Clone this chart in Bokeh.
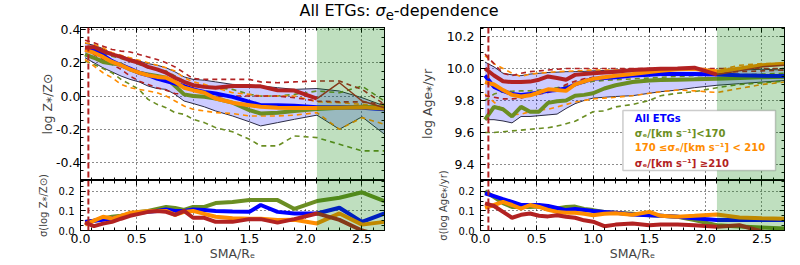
from bokeh.plotting import figure
from bokeh.models import (Range1d, LinearAxis, BoxAnnotation, Span, Label, Div, FixedTicker,
                          PrintfTickFormatter)
from bokeh.layouts import column, row
from bokeh.embed import file_html
from bokeh.resources import INLINE

# ---------------- data ----------------
R = [0.04, 0.12, 0.2, 0.28, 0.36, 0.44, 0.52, 0.6, 0.68, 0.76, 0.84, 0.92,
     1.0, 1.1, 1.2, 1.35, 1.5, 1.6, 1.75, 1.9, 2.1, 2.3, 2.5, 2.7]

# metallicity (log Z*/Zsun)
Z_all = [0.275, 0.28, 0.245, 0.21, 0.185, 0.165, 0.14, 0.125, 0.105, 0.09, 0.075, 0.06,
         0.04, 0.025, 0.015, -0.005, -0.035, -0.055, -0.055, -0.058, -0.067, -0.067, -0.07, -0.08]
Z_low = [0.25, 0.23, 0.205, 0.195, 0.19, 0.16, 0.14, 0.13, 0.12, 0.11, 0.06, 0.01,
         0.0, -0.005, -0.015, -0.04, -0.085, -0.105, -0.1, -0.09, -0.078, -0.07, -0.065, -0.07]
Z_mid = [0.277, 0.26, 0.235, 0.205, 0.185, 0.16, 0.14, 0.125, 0.115, 0.11, 0.085, 0.05,
         0.035, 0.02, -0.015, -0.04, -0.055, -0.065, -0.07, -0.072, -0.072, -0.07, -0.068, -0.075]
Z_high = [0.29, 0.295, 0.27, 0.25, 0.235, 0.215, 0.2, 0.175, 0.16, 0.14, 0.11, 0.085,
          0.065, 0.055, 0.05, 0.06, 0.06, 0.058, 0.035, 0.033, -0.015, 0.08, -0.03, -0.07]
Z_band_hi = [0.317, 0.305, 0.285, 0.255, 0.24, 0.225, 0.21, 0.195, 0.185, 0.17, 0.145, 0.115,
             0.1, 0.095, 0.085, 0.07, 0.065, 0.06, 0.05, 0.04, 0.045, 0.03, -0.01, -0.06]
Z_band_lo = [0.23, 0.2, 0.17, 0.145, 0.12, 0.1, 0.085, 0.06, 0.045, 0.04, 0.01, -0.03,
             -0.045, -0.065, -0.09, -0.12, -0.155, -0.18, -0.16, -0.14, -0.115, -0.2, -0.125, -0.23]
Z_high_up = [0.335, 0.32, 0.3, 0.28, 0.27, 0.265, 0.25, 0.235, 0.22, 0.2, 0.175, 0.14,
             0.105, 0.1, 0.1, 0.1, 0.1, 0.085, 0.08, 0.085, 0.09, 0.09, 0.04, -0.05]
Z_high_dn = [0.28, 0.25, 0.22, 0.19, 0.16, 0.12, 0.09, 0.07, 0.05, 0.035, 0.015, 0.01,
             0.005, 0.0, -0.005, 0.0, 0.0, 0.0, 0.0, -0.01, -0.03, -0.035, -0.035, -0.05]
Z_mid_up = [0.32, 0.31, 0.29, 0.26, 0.245, 0.23, 0.215, 0.2, 0.185, 0.17, 0.15, 0.11,
            0.085, 0.07, 0.05, 0.02, 0.01, 0.0, 0.0, 0.0, -0.035, -0.04, -0.05, -0.06]
Z_mid_dn = [0.22, 0.18, 0.14, 0.11, 0.07, 0.05, 0.04, 0.03, 0.02, 0.0, -0.03, -0.06,
            -0.08, -0.09, -0.1, -0.105, -0.12, -0.12, -0.12, -0.115, -0.1, -0.2, -0.13, -0.17]
Z_low_up = [0.28, 0.27, 0.255, 0.24, 0.225, 0.21, 0.19, 0.17, 0.16, 0.15, 0.12, 0.09,
            0.07, 0.06, 0.05, 0.04, 0.01, 0.0, 0.0, 0.01, 0.03, 0.02, 0.06, -0.03]
Z_low_dn = [0.21, 0.19, 0.165, 0.14, 0.1, 0.07, 0.04, -0.02, -0.05, -0.07, -0.1, -0.11,
            -0.14, -0.16, -0.19, -0.215, -0.26, -0.3, -0.3, -0.24, -0.25, -0.29, -0.33, -0.33]

# scatter of metallicity
sZ_all = [0.044, 0.05, 0.055, 0.061, 0.07, 0.08, 0.09, 0.095, 0.1, 0.107, 0.1, 0.1,
          0.107, 0.105, 0.1, 0.097, 0.095, 0.13, 0.095, 0.087, 0.087, 0.116, 0.044, 0.087]
sZ_low = [0.044, 0.05, 0.06, 0.07, 0.075, 0.085, 0.095, 0.1, 0.11, 0.12, 0.115, 0.105,
          0.12, 0.12, 0.14, 0.145, 0.155, 0.155, 0.155, 0.11, 0.15, 0.167, 0.195, 0.15]
sZ_mid = [0.03, 0.05, 0.07, 0.061, 0.075, 0.09, 0.095, 0.098, 0.1, 0.1, 0.08, 0.095,
          0.1, 0.085, 0.07, 0.063, 0.06, 0.06, 0.053, 0.055, 0.036, 0.087, 0.03, 0.044]
sZ_high = [0.04, 0.022, 0.035, 0.044, 0.06, 0.075, 0.085, 0.095, 0.1, 0.095, 0.08, 0.1,
           0.065, 0.065, 0.044, 0.044, 0.058, 0.058, 0.04, 0.058, 0.087, 0.054, 0.0, -0.03]

# age (log Age*/yr)
A_all = [9.956, 9.885, 9.86, 9.84, 9.835, 9.84, 9.85, 9.86, 9.865, 9.875, 9.9, 9.92,
         9.935, 9.94, 9.945, 9.956, 9.96, 9.965, 9.965, 9.965, 9.962, 9.958, 9.955, 9.953]
A_low = [9.68, 9.76, 9.745, 9.70, 9.76, 9.73, 9.73, 9.785, 9.795, 9.80, 9.83, 9.835,
         9.845, 9.875, 9.895, 9.915, 9.925, 9.928, 9.93, 9.932, 9.935, 9.94, 9.945, 9.948]
A_mid = [9.915, 9.9, 9.865, 9.835, 9.825, 9.832, 9.85, 9.87, 9.865, 9.86, 9.9, 9.92,
         9.935, 9.945, 9.955, 9.965, 9.978, 9.985, 9.995, 9.998, 9.98, 10.0, 10.02, 10.03]
A_high = [10.0, 9.956, 9.92, 9.915, 9.915, 9.918, 9.93, 9.95, 9.94, 9.93, 9.96, 9.965,
          9.97, 9.975, 9.98, 9.99, 9.995, 9.998, 10.0, 10.005, 9.962, 9.985, 10.01, 10.02]
A_band_hi = [10.04, 10.01, 9.97, 9.96, 9.955, 9.965, 9.97, 9.975, 9.977, 9.98, 9.98, 9.982,
             9.985, 9.987, 9.99, 9.99, 9.99, 9.99, 9.99, 9.99, 9.985, 9.99, 9.995, 9.99]
A_band_lo = [9.68, 9.68, 9.672, 9.66, 9.70, 9.70, 9.705, 9.71, 9.715, 9.75, 9.78, 9.8,
             9.815, 9.82, 9.825, 9.83, 9.845, 9.855, 9.865, 9.88, 9.895, 9.905, 9.915, 9.925]
A_high_up = [10.09, 10.03, 9.97, 9.955, 9.97, 9.98, 9.985, 9.99, 9.995, 10.0, 10.0, 10.0,
             10.0, 10.0, 10.0, 10.0, 10.0, 10.0, 10.0, 10.0, 10.0, 10.0, 10.0, 10.0]
A_high_dn = [9.83, 9.82, 9.81, 9.81, 9.815, 9.83, 9.84, 9.85, 9.87, 9.9, 9.92, 9.935,
             9.945, 9.95, 9.955, 9.96, 9.962, 9.965, 9.967, 9.97, 9.972, 9.98, 9.985, 9.99]
A_mid_up = [10.08, 10.03, 10.0, 9.97, 9.95, 9.965, 9.97, 9.975, 9.98, 9.982, 9.985, 9.988,
            9.99, 9.99, 9.99, 9.99, 9.99, 9.99, 9.99, 9.99, 9.99, 10.02, 10.03, 10.03]
A_mid_dn = [9.84, 9.79, 9.74, 9.71, 9.715, 9.73, 9.74, 9.745, 9.76, 9.775, 9.79, 9.80,
            9.81, 9.815, 9.82, 9.83, 9.845, 9.855, 9.865, 9.86, 9.85, 9.875, 9.9, 9.915]
A_low_up = [9.80, 9.84, 9.855, 9.858, 9.86, 9.86, 9.865, 9.87, 9.88, 9.89, 9.9, 9.91,
            9.92, 9.925, 9.93, 9.935, 9.94, 9.945, 9.95, 9.955, 9.958, 9.96, 9.965, 9.97]
A_low_dn = [9.60, 9.60, 9.605, 9.61, 9.615, 9.62, 9.625, 9.63, 9.64, 9.655, 9.67, 9.70,
            9.73, 9.735, 9.76, 9.775, 9.80, 9.83, 9.845, 9.855, 9.88, 9.9, 9.91, 9.92]

# scatter of age
sA_all = [0.19, 0.175, 0.16, 0.146, 0.13, 0.13, 0.13, 0.125, 0.115, 0.104, 0.11, 0.105,
          0.1, 0.095, 0.09, 0.082, 0.078, 0.075, 0.07, 0.062, 0.053, 0.053, 0.053, 0.053]
sA_low = [0.2, 0.17, 0.14, 0.12, 0.12, 0.12, 0.123, 0.12, 0.112, 0.12, 0.122, 0.11,
          0.104, 0.095, 0.09, 0.085, 0.078, 0.075, 0.07, 0.053, 0.027, 0.02, 0.015, 0.01]
sA_mid = [0.116, 0.13, 0.146, 0.13, 0.112, 0.13, 0.12, 0.105, 0.095, 0.09, 0.09, 0.085,
          0.078, 0.085, 0.088, 0.08, 0.095, 0.075, 0.07, 0.075, 0.082, 0.066, 0.062, 0.06]
sA_high = [0.138, 0.125, 0.095, 0.065, 0.08, 0.087, 0.075, 0.072, 0.078, 0.07, 0.065, 0.052,
           0.045, 0.022, 0.03, 0.036, 0.027, 0.03, 0.031, 0.027, 0.019, 0.027, -0.005, -0.03]

R_CUT = 2.1      # start of shaded region
R_PSF = 0.07     # vertical dashed marker
X_MAJOR = [0.0, 0.5, 1.0, 1.5, 2.0, 2.5]
X_MINOR = [round(i / 10, 1) for i in range(28) if i % 5]

LEGEND = ["All ETGs", "σₑ/[km s⁻¹]<170", "170 ≤σₑ/[km s⁻¹] < 210", "σₑ/[km s⁻¹] ≥210"]

BLUE, GREEN, ORANGE, RED = "#0000FF", "#6B8E23", "#FF8C00", "#B22222"
FONT = "DejaVu Sans"
OVERLAP = 14   # bottom panels reach up under the top panels (transparent border)


# ---------------- helpers ----------------
def style_axis(ax):
    ax.major_tick_in = 5
    ax.major_tick_out = 0
    ax.minor_tick_in = 3
    ax.minor_tick_out = 0
    ax.axis_line_color = "black"
    ax.major_tick_line_color = "black"
    ax.minor_tick_line_color = "black"
    ax.major_label_text_font = FONT
    ax.axis_label_text_font = FONT
    ax.axis_label_text_font_style = "normal"
    ax.major_label_text_color = "black"


def tick_only(ax, positions, length):
    ax.ticker = FixedTicker(ticks=[], minor_ticks=positions)
    ax.major_tick_in = 0
    ax.major_tick_out = 0
    ax.minor_tick_in = length
    ax.minor_tick_out = 0
    ax.axis_line_color = "black"
    ax.minor_tick_line_color = "black"


def make_fig(w, h, yr, yticks, yminor, mb, show_x, margin=(0, 0, 0, 0)):
    p = figure(width=w, height=h, x_range=Range1d(0, 2.7), y_range=Range1d(*yr),
               output_backend="svg", toolbar_location=None,
               min_border_left=mb[0], min_border_right=mb[1],
               min_border_top=mb[2], min_border_bottom=mb[3], margin=margin)
    p.outline_line_color = "black"
    p.outline_line_width = 1
    xt = FixedTicker(ticks=X_MAJOR, minor_ticks=X_MINOR)
    yt = FixedTicker(ticks=yticks, minor_ticks=yminor)
    yl = p.left[0]
    style_axis(yl)
    yl.ticker = yt
    yl.formatter = PrintfTickFormatter(format="%.1f")
    xb = p.below[0]
    if show_x:
        style_axis(xb)
        xb.ticker = xt
        xb.formatter = PrintfTickFormatter(format="%.1f")
        xb.major_label_text_font_size = "12.5px"
        xb.major_label_standoff = 3
        xb.axis_label = "SMA/Rₑ"
        xb.axis_label_text_font_size = "12.5px"
        xb.axis_label_standoff = 0
    else:
        tick_only(xb, X_MAJOR, 5)
        extra = LinearAxis()
        tick_only(extra, X_MINOR, 3)
        p.add_layout(extra, "below")
    for side, maj, mnr in (("above", X_MAJOR, X_MINOR), ("right", yticks, yminor)):
        a1 = LinearAxis()
        tick_only(a1, maj, 5)
        a2 = LinearAxis()
        tick_only(a2, mnr, 3)
        p.add_layout(a1, side)
        p.add_layout(a2, side)
    p.xgrid.ticker = xt
    p.ygrid.ticker = yt
    for g in (p.xgrid[0], p.ygrid[0]):
        g.grid_line_color = "black"
        g.grid_line_dash = "1 3"
        g.grid_line_width = 1
        g.grid_line_alpha = 0.9
    return p


def top_panel(p, band_hi, band_lo, dashed, solid, red_main):
    p.varea(x=R, y1=band_lo, y2=band_hi, fill_color=BLUE, fill_alpha=0.2)
    p.line(R, band_hi, line_color="#2b2b45", line_width=1)
    p.line(R, band_lo, line_color="#2b2b45", line_width=1)
    for ys, c in dashed:
        p.line(R, ys, line_color=c, line_width=1.6, line_dash="5 4")
    for ys, c in solid:
        p.line(R, ys, line_color=c, line_width=4)
    n = R.index(R_CUT)
    p.line(R[:n + 1], red_main[:n + 1], line_color=RED, line_width=4)
    p.line(R[n:], red_main[n:], line_color=RED, line_width=1.5)


def finish(p):
    p.add_layout(Span(location=R_PSF, dimension="height", line_color=RED,
                      line_dash="6 3", line_width=2))
    p.add_layout(BoxAnnotation(left=R_CUT, fill_color="green", fill_alpha=0.25,
                               line_alpha=0))


# ---------------- panels ----------------
yZ_minor = [round(-0.5 + 0.05 * i, 3) for i in range(20) if i % 4 != 2]
yA_minor = [round(9.3 + 0.05 * i, 3) for i in range(20) if i % 4 != 2]
ys_minor = [round(0.025 * i, 3) for i in range(11) if i % 4]

p1 = make_fig(408, 160, (-0.508, 0.412), [-0.4, -0.2, 0.0, 0.2, 0.4], yZ_minor, (80, 24, 7, 0), False)
p1.left[0].axis_label = "log Z⁎/Z⊙"
top_panel(p1, Z_band_hi, Z_band_lo,
          [(Z_low_up, GREEN), (Z_low_dn, GREEN), (Z_mid_up, ORANGE), (Z_mid_dn, ORANGE),
           (Z_high_up, RED), (Z_high_dn, RED)],
          [(Z_low, GREEN), (Z_all, BLUE), (Z_mid, ORANGE)], Z_high)
finish(p1)

p2 = make_fig(408, 83 + OVERLAP, (0.0, 0.255), [0.0, 0.1, 0.2], ys_minor, (80, 24, OVERLAP, 33), True,
              margin=(-OVERLAP, 0, 0, 0))
p2.left[0].axis_label = "σ(log Z⁎/Z⊙)"
for ys, c in [(sZ_low, GREEN), (sZ_all, BLUE), (sZ_mid, ORANGE), (sZ_high, RED)]:
    p2.line(R, ys, line_color=c, line_width=4)
finish(p2)

p3 = make_fig(390, 160, (9.3, 10.256), [9.4, 9.6, 9.8, 10.0, 10.2], yA_minor, (72, 14, 7, 0), False)
p3.left[0].axis_label = "log Age⁎/yr"
top_panel(p3, A_band_hi, A_band_lo,
          [(A_low_up, GREEN), (A_low_dn, GREEN), (A_mid_up, ORANGE), (A_mid_dn, ORANGE),
           (A_high_up, RED), (A_high_dn, RED)],
          [(A_low, GREEN), (A_all, BLUE), (A_mid, ORANGE)], A_high)
finish(p3)
p3.add_layout(BoxAnnotation(left=1.265, right=2.62, bottom=9.3625, top=9.7375,
                            fill_color="white", fill_alpha=1, line_color="#555555",
                            line_width=1.5))
for txt, c, yy in zip(LEGEND, [BLUE, GREEN, ORANGE, RED], [9.6875, 9.594, 9.506, 9.406]):
    p3.add_layout(Label(x=1.37, y=yy, text=txt, text_color=c, text_font=FONT,
                        text_font_size="10px", text_font_style="bold",
                        text_baseline="middle"))

p4 = make_fig(390, 83 + OVERLAP, (0.0, 0.255), [0.0, 0.1, 0.2], ys_minor, (72, 14, OVERLAP, 33), True,
              margin=(-OVERLAP, 0, 0, 0))
p4.left[0].axis_label = "σ(log Age⁎/yr)"
for ys, c in [(sA_low, GREEN), (sA_all, BLUE), (sA_mid, ORANGE), (sA_high, RED)]:
    p4.line(R, ys, line_color=c, line_width=4)
finish(p4)

for p in (p2, p4):
    p.border_fill_alpha = 0

for p in (p1, p3):
    p.left[0].major_label_text_font_size = "12.5px"
    p.left[0].axis_label_text_font_size = "12.5px"
p1.left[0].major_label_standoff = 0
p1.left[0].axis_label_standoff = -2
p3.left[0].major_label_standoff = 6
p3.left[0].axis_label_standoff = 9
for p in (p2, p4):
    p.left[0].major_label_text_font_size = "10px"
    p.left[0].axis_label_text_font_size = "10px"
    p.left[0].major_label_standoff = 6
    p.left[0].axis_label_standoff = 7

title = Div(text="All ETGs: <i>σ</i><sub>e</sub>-dependence", width=798, height=20,
            margin=(0, 0, 0, 0),
            styles={"font-size": "16px", "text-align": "center", "line-height": "22px",
                    "font-family": FONT, "color": "black"})

layout = column(title, row(column(p1, p2), column(p3, p4)))

open("out.html", "w").write(file_html(layout, INLINE))
